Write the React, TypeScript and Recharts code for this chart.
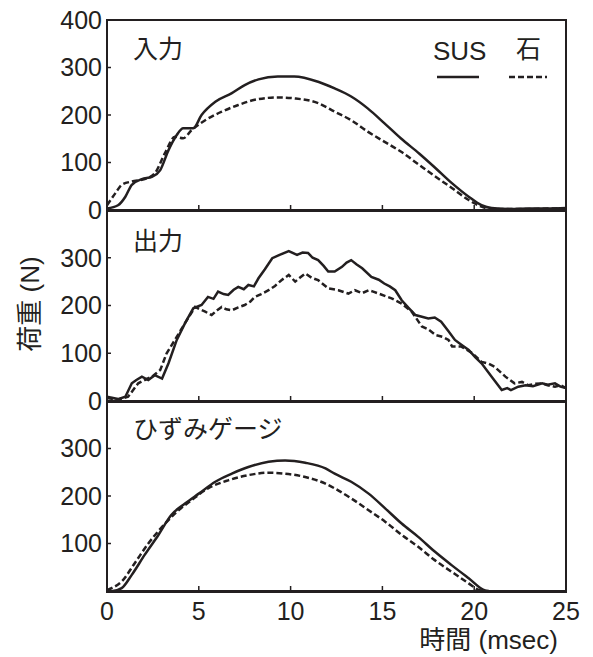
import React from "react";
import { LineChart, Line, XAxis, YAxis } from "recharts";

// x axis (msec)
const xTicks = [0, 5, 10, 15, 20, 25];

// 入力
const inSusT = [0, 0.6, 1.0, 1.35, 1.9, 2.45, 2.9, 3.35, 3.8, 4.15, 4.7, 5.15, 5.9, 6.8, 7.5, 8.25, 9.3, 10.2, 11.5, 12.4, 13.3, 14.2, 15.1, 16.0, 17.0, 17.9, 18.8, 19.7, 20.4, 20.95, 22, 23, 24, 25];
const inSusV = [3, 10, 28, 53, 65, 70, 84, 126, 158, 172, 172, 200, 228, 246, 263, 275, 281, 281, 270, 256, 239, 214, 183, 151, 119, 88, 56, 28, 10, 4, 2, 3, 3, 4];
const inStoneT = [0, 0.45, 0.8, 1.35, 2.05, 2.6, 3.15, 3.7, 4.15, 4.6, 5.35, 6.25, 7.15, 8.05, 9.3, 10.2, 11.5, 12.4, 13.3, 14.2, 15.1, 16.0, 17.0, 17.9, 18.8, 19.7, 20.4, 20.8, 22, 23, 24, 25];
const inStoneV = [10, 35, 53, 60, 65, 77, 119, 154, 151, 168, 189, 207, 221, 232, 237, 235, 225, 207, 189, 165, 144, 123, 95, 70, 46, 21, 7, 3, 2, 2, 3, 3];

// 出力
const outSusT = [0, 0.6, 1.0, 1.35, 1.6, 1.9, 2.25, 2.6, 3.0, 3.35, 3.8, 4.25, 4.7, 5.15, 5.5, 5.8, 6.05, 6.35, 6.6, 6.9, 7.15, 7.45, 7.7, 8.0, 8.25, 8.6, 9.0, 9.4, 9.9, 10.35, 10.65, 10.95, 11.2, 11.5, 11.8, 12.05, 12.4, 12.8, 13.05, 13.3, 13.6, 13.9, 14.4, 14.8, 15.1, 15.4, 15.7, 16.05, 16.4, 16.8, 17.1, 17.5, 17.85, 18.2, 18.6, 18.95, 19.3, 19.7, 20.05, 20.4, 20.95, 21.5, 21.8, 22.0, 22.4, 22.8, 23.2, 23.7, 24.0, 24.4, 24.7, 25];
const outSusV = [9, 4, 9, 37, 44, 51, 44, 54, 47, 79, 128, 163, 194, 201, 218, 214, 229, 224, 222, 233, 239, 234, 243, 240, 257, 276, 299, 306, 314, 306, 311, 310, 300, 295, 283, 271, 271, 281, 290, 295, 286, 278, 260, 254, 246, 240, 232, 211, 196, 180, 177, 173, 175, 166, 146, 128, 118, 107, 92, 79, 51, 23, 27, 23, 30, 33, 31, 37, 34, 37, 30, 27];
const outStoneT = [0, 0.6, 1.15, 1.7, 2.05, 2.45, 2.9, 3.25, 3.7, 4.25, 4.8, 5.05, 5.35, 5.7, 6.0, 6.25, 6.5, 6.8, 7.15, 7.5, 7.8, 8.05, 8.4, 8.8, 9.15, 9.5, 9.9, 10.25, 10.5, 10.8, 11.15, 11.5, 12.05, 12.6, 12.9, 13.15, 13.5, 13.9, 14.25, 14.5, 14.8, 15.2, 15.5, 16.05, 16.6, 17.15, 17.5, 17.9, 18.3, 18.6, 18.8, 19.3, 19.9, 20.4, 20.8, 21.1, 21.7, 22.2, 22.6, 22.95, 23.3, 23.7, 24.0, 24.4, 24.7, 25];
const outStoneV = [6, 3, 9, 37, 44, 51, 65, 100, 128, 163, 197, 192, 187, 180, 190, 197, 192, 190, 196, 201, 208, 218, 224, 232, 241, 253, 264, 250, 258, 267, 258, 253, 236, 232, 228, 225, 232, 226, 232, 229, 225, 219, 215, 204, 187, 156, 150, 138, 134, 128, 114, 114, 100, 82, 78, 72, 51, 37, 40, 33, 36, 37, 33, 30, 33, 27];

// ひずみゲージ
const gaugeSusT = [0, 0.3, 0.8, 1.35, 2.05, 2.8, 3.5, 4.25, 5.0, 5.9, 6.8, 7.7, 8.8, 9.7, 10.8, 11.9, 12.4, 13.3, 14.25, 15.15, 16.05, 16.95, 17.85, 18.75, 19.7, 20.6, 20.8];
const gaugeSusV = [0, 0, 6, 34, 76, 118, 160, 184, 205, 230, 247, 261, 272, 275, 270, 258, 247, 230, 205, 174, 142, 114, 83, 55, 27, 1, 0];
const gaugeStoneT = [0, 0.25, 0.8, 1.5, 2.25, 3.0, 3.7, 4.6, 5.5, 6.6, 7.7, 8.8, 9.7, 10.8, 11.9, 12.4, 13.3, 14.25, 15.15, 16.05, 16.95, 17.85, 18.75, 19.7, 20.25, 20.5];
const gaugeStoneV = [2, 6, 20, 58, 100, 135, 163, 191, 216, 233, 244, 249, 247, 240, 226, 216, 195, 170, 146, 118, 93, 65, 41, 16, 2, 0];

const INK = "#231f20";
const FONT = '"Liberation Sans", Arial, "Noto Sans CJK JP", sans-serif';
const AXIS_LINE = { stroke: INK, strokeWidth: 2 };

const toRows = (t: number[], v: number[]) => t.map((x, i) => ({ t: x, v: v[i] }));

interface PanelProps {
  top: number;
  height: number;
  bottom: number;
  sus: { t: number; v: number }[];
  stone: { t: number; v: number }[];
  yTicks: number[];
  showX?: boolean;
  curve: "monotone" | "linear";
}

function Panel({ top, height, bottom, sus, stone, yTicks, showX, curve }: PanelProps) {
  return (
    <div style={{ position: "absolute", left: 0, top }}>
      <LineChart width={593} height={height} margin={{ top: 19, right: 26, bottom, left: 0 }}>
        <XAxis
          dataKey="t"
          type="number"
          domain={[0, 25]}
          ticks={xTicks}
          interval={0}
          height={1}
          tickSize={-5}
          tickMargin={16}
          axisLine={AXIS_LINE}
          tickLine={{ stroke: INK, strokeWidth: 1.5 }}
          tickFormatter={showX ? undefined : () => ""}
          tick={{ fontSize: 25, fill: INK, fontFamily: FONT }}
        />
        <XAxis xAxisId="top" orientation="top" type="number" domain={[0, 25]} height={1} ticks={xTicks} tickFormatter={() => ""} tickLine={false} axisLine={AXIS_LINE} />
        <YAxis
          type="number"
          domain={[0, 400]}
          ticks={yTicks}
          interval={0}
          width={107}
          tickSize={-4}
          tickMargin={9}
          axisLine={AXIS_LINE}
          tickLine={{ stroke: INK, strokeWidth: 1.5 }}
          tick={{ fontSize: 25, fill: INK, fontFamily: FONT }}
        />
        <YAxis yAxisId="r" orientation="right" type="number" domain={[0, 400]} width={1} ticks={yTicks} tickFormatter={() => ""} tickLine={false} axisLine={AXIS_LINE} />
        <Line data={stone} dataKey="v" type={curve} stroke={INK} strokeWidth={2.5} strokeDasharray="6 3" dot={false} isAnimationActive={false} />
        <Line data={sus} dataKey="v" type={curve} stroke={INK} strokeWidth={2.5} dot={false} isAnimationActive={false} />
      </LineChart>
    </div>
  );
}

// plain frame round each plot, in case an axis line is skipped
const frame = (top: number, height: number) => (
  <div
    style={{
      position: "absolute",
      left: 106,
      top,
      width: 461,
      height,
      border: `2px solid ${INK}`,
      boxSizing: "border-box",
      pointerEvents: "none",
    }}
  />
);

const label = (left: number, top: number, text: string, size = 25) => (
  <div style={{ position: "absolute", left, top, fontSize: size, lineHeight: 1, color: INK, fontFamily: FONT, whiteSpace: "nowrap" }}>
    {text}
  </div>
);

export default function App() {
  return (
    <div style={{ position: "absolute", left: 0, top: 0, width: 593, height: 657, background: "#fff", overflow: "hidden" }}>
      {frame(19, 193)}
      {frame(209, 194)}
      {frame(400, 193)}

      <Panel top={0} height={240} bottom={29} sus={toRows(inSusT, inSusV)} stone={toRows(inStoneT, inStoneV)} yTicks={[0, 100, 200, 300, 400]} curve="monotone" />
      <Panel top={190} height={240} bottom={28} sus={toRows(outSusT, outSusV)} stone={toRows(outStoneT, outStoneV)} yTicks={[0, 100, 200, 300]} curve="linear" />
      <Panel top={381} height={276} bottom={65} sus={toRows(gaugeSusT, gaugeSusV)} stone={toRows(gaugeStoneT, gaugeStoneV)} yTicks={[100, 200, 300]} showX curve="monotone" />

      {label(133, 37, "入力")}
      {label(133, 229, "出力")}
      {label(133, 417, "ひずみゲージ")}

      {label(433, 38, "SUS", 26)}
      {label(516, 37, "石", 25)}
      <svg style={{ position: "absolute", left: 430, top: 70 }} width={125} height={14}>
        <line x1={7} y1={7} x2={49} y2={7} stroke={INK} strokeWidth={2.5} />
        <line x1={79} y1={7} x2={117} y2={7} stroke={INK} strokeWidth={2.5} strokeDasharray="6 3" />
      </svg>

      <div
        style={{
          position: "absolute",
          left: 30,
          top: 304,
          transform: "translate(-50%, -50%) rotate(-90deg)",
          fontSize: 26,
          lineHeight: 1,
          color: INK,
          fontFamily: FONT,
          whiteSpace: "nowrap",
        }}
      >
        荷重 (N)
      </div>
      <div style={{ position: "absolute", right: 35, top: 627, fontSize: 26, lineHeight: 1, color: INK, fontFamily: FONT, whiteSpace: "nowrap" }}>
        時間 (msec)
      </div>
    </div>
  );
}
